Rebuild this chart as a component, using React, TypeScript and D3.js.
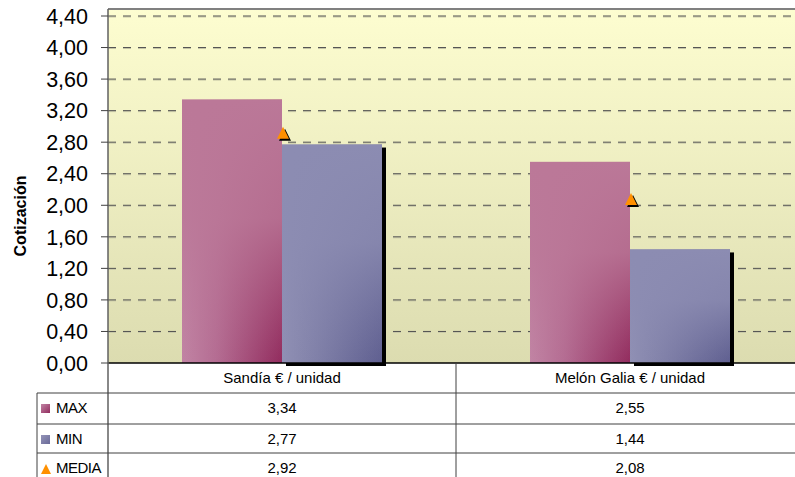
import React from "react";
import * as d3 from "d3";

const categories = ["Sandía € / unidad", "Melón Galia € / unidad"];
const seriesNames = ["MAX", "MIN", "MEDIA"];
const maxValues = [3.34, 2.55];
const minValues = [2.77, 1.44];
const mediaValues = [2.92, 2.08];
const yTicks = [0, 0.4, 0.8, 1.2, 1.6, 2.0, 2.4, 2.8, 3.2, 3.6, 4.0, 4.4];

const fmt = (v: number) => v.toFixed(2).replace(".", ",");

export default function App() {
  const W = 795, H = 477;
  const left = 108, top = 9, bottom = 363;
  const y = d3.scaleLinear().domain([0, 4.4]).range([bottom, 16]);
  const x0 = d3.scaleBand<string>().domain(categories).range([left, left + 696]).padding(0);
  const bw = x0.bandwidth();
  const x1 = d3.scaleBand<string>().domain(["MAX", "MIN"]).range([(bw - 200) / 2, (bw + 200) / 2]).padding(0);
  const rowTops = [393, 424, 453];
  const font = "'Liberation Sans', Arial, sans-serif";
  const tri = (cx: number, cy: number, s: number) =>
    `M${cx},${cy - s / 2} L${cx + s / 2},${cy + s / 2} L${cx - s / 2},${cy + s / 2} Z`;
  const seriesVals = [maxValues, minValues, mediaValues];

  return (
    <svg width={W} height={H} style={{ position: "absolute", left: 0, top: 0 }} fontFamily={font}>
      <defs>
        <linearGradient id="bg" x1="0" y1="0" x2="0" y2="1">
          <stop offset="0" stopColor="#fdfdd0" />
          <stop offset="1" stopColor="#dcdcb0" />
        </linearGradient>
        <linearGradient id="maxH" x1="0" y1="0" x2="1" y2="0">
          <stop offset="0" stopColor="#c184a4" />
          <stop offset="0.35" stopColor="#b46c92" />
          <stop offset="1" stopColor="#922c5e" />
        </linearGradient>
        <linearGradient id="maxV" x1="0" y1="0" x2="0" y2="1">
          <stop offset="0" stopColor="#bb7898" stopOpacity="1" />
          <stop offset="0.45" stopColor="#bb7898" stopOpacity="0.85" />
          <stop offset="1" stopColor="#bb7898" stopOpacity="0" />
        </linearGradient>
        <linearGradient id="minH" x1="0" y1="0" x2="1" y2="0">
          <stop offset="0" stopColor="#9090b4" />
          <stop offset="0.35" stopColor="#8080a8" />
          <stop offset="1" stopColor="#5f5f90" />
        </linearGradient>
        <linearGradient id="minV" x1="0" y1="0" x2="0" y2="1">
          <stop offset="0" stopColor="#8c8cb2" stopOpacity="1" />
          <stop offset="0.45" stopColor="#8c8cb2" stopOpacity="0.85" />
          <stop offset="1" stopColor="#8c8cb2" stopOpacity="0" />
        </linearGradient>
        <linearGradient id="legMax" x1="0" y1="0" x2="1" y2="1">
          <stop offset="0" stopColor="#c184a4" />
          <stop offset="1" stopColor="#922c5e" />
        </linearGradient>
        <linearGradient id="legMin" x1="0" y1="0" x2="1" y2="1">
          <stop offset="0" stopColor="#9494b8" />
          <stop offset="1" stopColor="#6a6a98" />
        </linearGradient>
      </defs>

      {/* plot background */}
      <rect x={left} y={top} width={W - left} height={bottom - top} fill="url(#bg)" />
      <line x1={left} x2={W} y1={top} y2={top} stroke="#808080" strokeWidth={2} />

      {/* grid */}
      {yTicks.filter((t) => t > 0).map((t) => (
        <g key={t}>
          <line x1={left} x2={W} y1={y(t) + 1} y2={y(t) + 1} stroke="#c8c8a8" strokeWidth={1} strokeDasharray="8,7" />
          <line x1={left} x2={W} y1={y(t)} y2={y(t)} stroke="#505050" strokeWidth={1} strokeDasharray="8,7" />
        </g>
      ))}

      {/* bars */}
      {categories.map((c, i) => {
        const bx = x0(c)!;
        const xm = bx + x1("MAX")!;
        const xn = bx + x1("MIN")!;
        const w = x1.bandwidth();
        return (
          <g key={c}>
            <rect x={xn + 4} y={y(minValues[i]) + 3} width={w} height={bottom - y(minValues[i])} fill="#000" />
            <rect x={xm} y={y(maxValues[i])} width={w} height={bottom - y(maxValues[i])} fill="url(#maxH)" />
            <rect x={xm} y={y(maxValues[i])} width={w} height={bottom - y(maxValues[i])} fill="url(#maxV)" />
            <rect x={xn} y={y(minValues[i])} width={w} height={bottom - y(minValues[i])} fill="url(#minH)" />
            <rect x={xn} y={y(minValues[i])} width={w} height={bottom - y(minValues[i])} fill="url(#minV)" />
          </g>
        );
      })}

      {/* media markers */}
      {categories.map((c, i) => {
        const cx = x0(c)! + bw / 2 + 1;
        const cy = y(mediaValues[i]);
        return (
          <g key={c}>
            <path d={tri(cx + 2, cy + 2, 12)} fill="#000" />
            <path d={tri(cx, cy, 12)} fill="#ff9000" />
          </g>
        );
      })}

      {/* axes */}
      <line x1={left} x2={W} y1={bottom} y2={bottom} stroke="#000" strokeWidth={1.5} />
      <line x1={left} x2={left} y1={top} y2={H} stroke="#606060" strokeWidth={1.5} />
      {yTicks.map((t) => (
        <g key={t}>
          <line x1={101} x2={left} y1={y(t)} y2={y(t)} stroke="#404040" strokeWidth={1} />
          <text x={88} y={y(t)} dy="0.36em" textAnchor="end" fontSize={21.5} fill="#000">
            {fmt(t)}
          </text>
        </g>
      ))}
      <text transform={`translate(26,216) rotate(-90)`} textAnchor="middle" fontSize={16} fontWeight="bold">
        Cotización
      </text>

      {/* data table */}
      <line x1={37} x2={W} y1={rowTops[0]} y2={rowTops[0]} stroke="#404040" />
      <line x1={37} x2={W} y1={rowTops[1]} y2={rowTops[1]} stroke="#404040" />
      <line x1={37} x2={W} y1={rowTops[2]} y2={rowTops[2]} stroke="#404040" />
      <line x1={37} x2={37} y1={rowTops[0]} y2={H} stroke="#404040" />
      <line x1={x0(categories[1])!} x2={x0(categories[1])!} y1={bottom} y2={H} stroke="#404040" />
      {categories.map((c) => (
        <text key={c} x={x0(c)! + bw / 2} y={378} dy="0.35em" textAnchor="middle" fontSize={15}>
          {c}
        </text>
      ))}
      {seriesNames.map((s, r) => {
        const cy = rowTops[r] + 15;
        return (
          <g key={s}>
            {r === 0 && <rect x={41} y={cy - 4} width={9} height={9} fill="url(#legMax)" />}
            {r === 1 && <rect x={41} y={cy - 4} width={9} height={9} fill="url(#legMin)" />}
            {r === 2 && <path d={tri(46, cy + 1, 10)} fill="#ff9000" />}
            <text x={56} y={cy} dy="0.35em" fontSize={15} letterSpacing={-0.5}>
              {s}
            </text>
            {categories.map((c, i) => (
              <text key={c} x={x0(c)! + bw / 2} y={cy} dy="0.35em" textAnchor="middle" fontSize={15}>
                {fmt(seriesVals[r][i])}
              </text>
            ))}
          </g>
        );
      })}
    </svg>
  );
}
